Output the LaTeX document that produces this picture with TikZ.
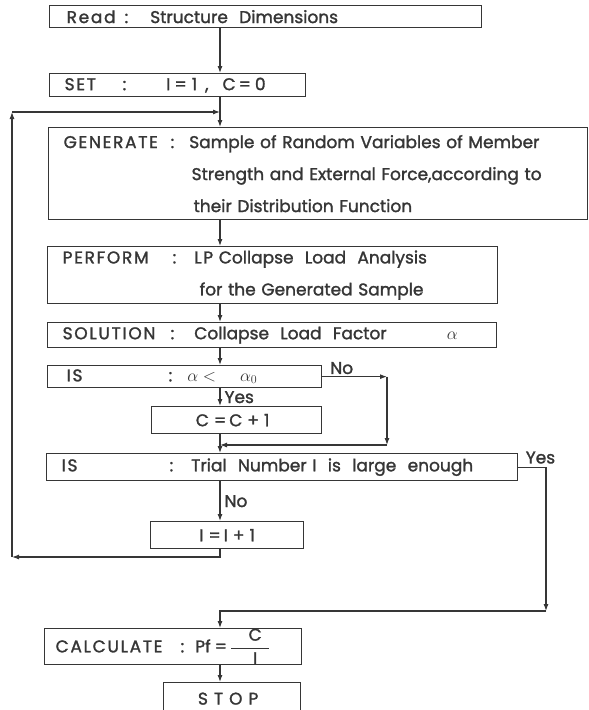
\documentclass[tikz,border=0pt]{standalone}
\usepackage{fontspec}
\setmainfont{Poppins}
\newfontfamily\lettering{Poppins}[FakeBold=1.5]
\usetikzlibrary{arrows.meta}
\definecolor{ink}{HTML}{363636}
\tikzset{
  blk/.style={rectangle, draw=ink, line width=1.3pt, anchor=north west, align=left,
              inner xsep=15pt, inner ysep=0pt, text=ink, font=\lettering\fontsize{17}{32}\selectfont},
  arr/.style={-{Latex[length=7pt,width=5pt]}, line width=1.1pt, draw=ink},
  lab/.style={text=ink, font=\lettering\fontsize{17}{20}\selectfont, inner sep=0pt},
}
\newcommand{\lbl}[2]{\makebox[#1][l]{\addfontfeatures{LetterSpace=10}#2}:}
\newcommand{\caps}[1]{{\addfontfeatures{LetterSpace=10}#1}}

\begin{document}
\begin{tikzpicture}[x=1pt,y=-1pt]
  \useasboundingbox (0,0) rectangle (589,710);
  \clip (0,0) rectangle (589,710);
  \fill[white] (0,0) rectangle (589,710);
  \coordinate (spine) at (220,0);
  % boxes
  \node[blk, text width=402pt, minimum height=22pt] (rd) at (49,5)
    {\hspace*{2pt}\lbl{58pt}{Read}\hspace{22pt}Structure\ \ Dimensions};
  \node[blk, text width=226pt, minimum height=23pt] (set) at (49,73)
    {\lbl{58pt}{SET}\hspace{40pt}I\hspace{4pt}=\hspace{5pt}1\hspace{8pt},\hspace{14pt}C\hspace{3pt}=\hspace{4pt}0};
  \node[blk, text width=509pt, minimum height=92pt] (gen) at (48,127)
    {\lbl{107pt}{GENERATE}\hspace{15pt}Sample of Random Variables of Member\\
     \hspace*{128pt}Strength and External Force,according to\\
     \hspace*{130pt}their Distribution Function};
  \node[blk, text width=420pt, minimum height=57pt] (perf) at (47,246)
    {\lbl{110pt}{PERFORM}\hspace{18pt}\caps{LP} Collapse\ \ Load\ \ Analysis\\
     \hspace*{137pt}for the Generated Sample};
  \node[blk, text width=419pt, minimum height=25pt] (sol) at (47,322)
    {\lbl{108pt}{SOLUTION}\hspace{20pt}Collapse\ \ Load\ \ Factor\hfill$\alpha$\hspace*{24pt}};
  \node[blk, text width=244pt, minimum height=22pt] (is1) at (47,365)
    {\hspace*{4pt}\lbl{102pt}{IS}\hspace{15pt}$\alpha<$\hspace{24pt}$\alpha_0$};
  \node[blk, align=center, text width=140pt, minimum height=27pt] (cc) at (151,406)
    {\hspace*{-8pt}C\hspace{5pt}=\hspace{3pt}C\hspace{5pt}+\hspace{5pt}1};
  \node[blk, text width=441pt, minimum height=27pt] (is2) at (46,453)
    {\lbl{108pt}{IS}\hspace{18pt}Trial\ \ Number I\ \ is\ \ large\ \ enough};
  \node[blk, align=center, text width=123pt, minimum height=27pt] (ii) at (150,521)
    {I\hspace{5pt}=\hspace{3pt}I\hspace{5pt}+\hspace{5pt}1};
  \node[blk, text width=227pt, minimum height=34pt] (calc) at (44,628)
    {\hspace*{-4pt}\lbl{125pt}{CALCULATE}\hspace{11pt}Pf\hspace{4pt}=\hspace{3pt}$\displaystyle\frac{\makebox[38pt]{\hspace{10pt}C}}{\makebox[38pt]{\hspace{10pt}I}}$};
  \node[blk, align=center, text width=107pt, minimum height=32pt] (stop) at (163,682)
    {\hspace*{-8pt}S\hspace{6pt}T\hspace{6pt}O\hspace{6pt}P};
  % helper points
  \coordinate (nx) at (387,0);
  \coordinate (mj) at (220,445);
  \coordinate (lb) at (12,557);
  \coordinate (lt) at (12,112);
  \coordinate (lj) at (220,112);
  \coordinate (yc) at (546,611);
  % main line
  \draw[arr] (rd.south -| spine) -- (set.north -| spine);
  \draw[arr] (set.south -| spine) -- (gen.north -| spine);
  \draw[arr] (gen.south -| spine) -- (perf.north -| spine);
  \draw[arr] (perf.south -| spine) -- (sol.north -| spine);
  \draw[arr] (sol.south -| spine) -- (is1.north -| spine);
  \draw[arr] (is1.south -| spine) -- node[lab, right=4pt] {Yes} (cc.north -| spine);
  \draw[arr] (cc.south -| spine) -- (is2.north -| spine);
  \draw[arr] (is2.south -| spine) -- node[lab, right=4pt] {No} (ii.north -| spine);
  \draw[arr] (calc.south -| spine) -- (stop.north -| spine);
  % branch alpha >= alpha0
  \draw[arr] (is1.east) -- node[lab, pos=0.3, above=2pt] {No} (is1.east -| nx);
  \draw[arr] (is1.east -| nx) -- (nx |- mj);
  \draw[arr] (nx |- mj) -- (mj);
  % loop back
  \draw[arr] (ii.south -| spine) |- (lb);
  \draw[arr] (lb) -- (lt);
  \draw[arr] (lt) -- (lj);
  % exit
  \draw[arr] (is2.east) -| node[lab, pos=0.4, above=3pt] {Yes} (yc);
  \draw[arr] (yc) -| (calc.north -| spine);
\end{tikzpicture}
\end{document}
